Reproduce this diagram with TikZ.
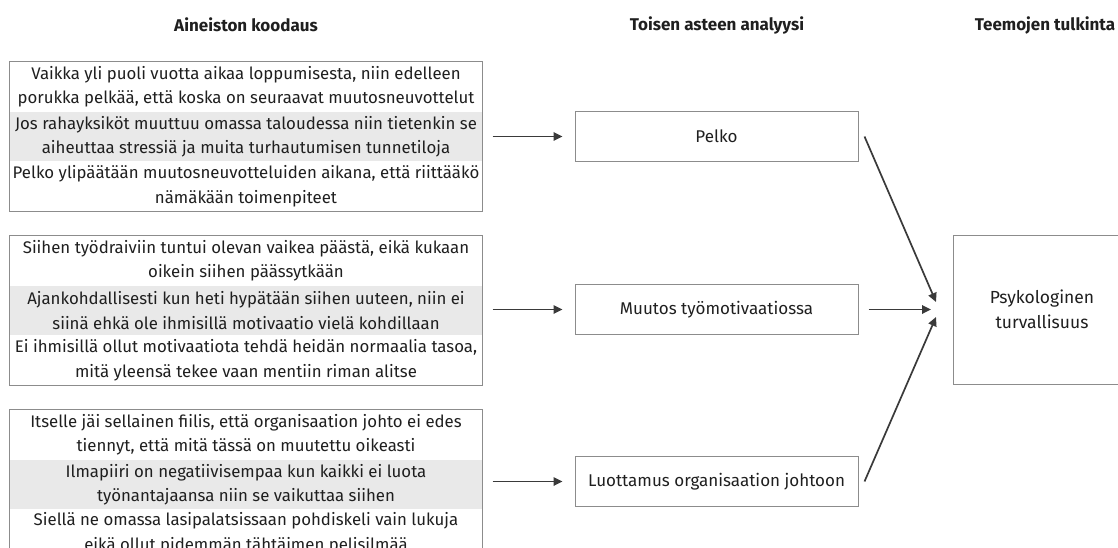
\documentclass[tikz,border=0pt]{standalone}
\usepackage{fontspec}
\setmainfont{Fira Sans}
\newfontfamily\titlefont{Fira Sans}
\usetikzlibrary{arrows.meta,fit}
\definecolor{txt}{HTML}{1F1F1F}
\definecolor{bordergray}{HTML}{8C8C8C}
\definecolor{band}{HTML}{E9E9E9}
\definecolor{arrowgray}{HTML}{3A3A3A}
\begin{document}
\begin{tikzpicture}[x=1pt,y=-1pt,
  row/.style={minimum width=472pt, minimum height=49.67pt, inner sep=0pt, align=center,
    font=\fontsize{16.8}{24.5}\selectfont, text=txt},
  shadedrow/.style={row, fill=band},
  outer/.style={draw=bordergray, line width=1pt, inner sep=0pt},
  cat/.style={draw=bordergray, line width=1pt, minimum width=283pt, minimum height=50pt,
    inner sep=0pt, font=\fontsize{17}{20}\selectfont, text=txt},
  theme/.style={draw=bordergray, line width=1pt, minimum width=178pt, minimum height=149pt,
    inner sep=0pt, align=center, font=\fontsize{17.5}{25}\selectfont, text=txt},
  head/.style={font=\titlefont\bfseries\fontsize{17}{19}\selectfont, text=txt},
  arr/.style={draw=arrowgray, line width=1.7pt, -{Triangle[length=9pt,width=8.5pt]}}
]
\clip (0,0) rectangle (1118,548);

% headings
\node[head] (h1) at (246,25) {Aineiston koodaus};
\node[head] (h2) at (717,25) {Toisen asteen analyysi};
\node[head] (h3) at (1045,25) {Teemojen tulkinta};

% quote box 1
\node[row] (q1a) at (246,86.8) {Vaikka yli puoli vuotta aikaa loppumisesta, niin edelleen\\porukka pelkää, että koska on seuraavat muutosneuvottelut};
\node[shadedrow] (q1b) at (246,136.5) {Jos rahayksiköt muuttuu omassa taloudessa niin tietenkin se\\aiheuttaa stressiä ja muita turhautumisen tunnetiloja};
\node[row] (q1c) at (246,186.2) {Pelko ylipäätään muutosneuvotteluiden aikana, että riittääkö\\nämäkään toimenpiteet};
\node[outer, fit=(q1a)(q1c)] (q1) {};

% quote box 2
\node[row] (q2a) at (246,260.8) {Siihen työdraiviin tuntui olevan vaikea päästä, eikä kukaan\\oikein siihen päässytkään};
\node[shadedrow] (q2b) at (246,310.5) {Ajankohdallisesti kun heti hypätään siihen uuteen, niin ei\\siinä ehkä ole ihmisillä motivaatio vielä kohdillaan};
\node[row] (q2c) at (246,360.2) {Ei ihmisillä ollut motivaatiota tehdä heidän normaalia tasoa,\\mitä yleensä tekee vaan mentiin riman alitse};
\node[outer, fit=(q2a)(q2c)] (q2) {};

% quote box 3
\node[row] (q3a) at (246,434.8) {Itselle jäi sellainen fiilis, että organisaation johto ei edes\\tiennyt, että mitä tässä on muutettu oikeasti};
\node[shadedrow] (q3b) at (246,484.5) {Ilmapiiri on negatiivisempaa kun kaikki ei luota\\työnantajaansa niin se vaikuttaa siihen};
\node[row] (q3c) at (246,533.2) {Siellä ne omassa lasipalatsissaan pohdiskeli vain lukuja\\eikä ollut pidemmän tähtäimen pelisilmää};
\node[outer, fit=(q3a)(q3c)] (q3) {};

% categories
\node[cat] (pelko) at (716.5,136.5) {Pelko};
\node[cat] (muutos) at (716.5,309.5) {Muutos työmotivaatiossa};
\node[cat] (luott) at (716.5,481.5) {Luottamus organisaation johtoon};

% theme
\node[theme] (psyk) at (1042,309.5) {Psykologinen\\turvallisuus};

% arrow targets near the theme box
\coordinate (t1) at (936,302);
\coordinate (t2) at (931,309.5);
\coordinate (t3) at (936,317);

% connectors
\draw[arr, shorten <=10pt, shorten >=12pt] (q1.east |- pelko.west) -- (pelko.west);
\draw[arr, shorten <=10pt, shorten >=12pt] (q2.east |- muutos.west) -- (muutos.west);
\draw[arr, shorten <=10pt, shorten >=12pt] (q3.east |- luott.west) -- (luott.west);
\draw[arr] ([xshift=6pt]pelko.east) -- (t1);
\draw[arr, shorten <=10pt] (muutos.east) -- (t2);
\draw[arr] ([xshift=6pt]luott.east) -- (t3);
\end{tikzpicture}
\end{document}
